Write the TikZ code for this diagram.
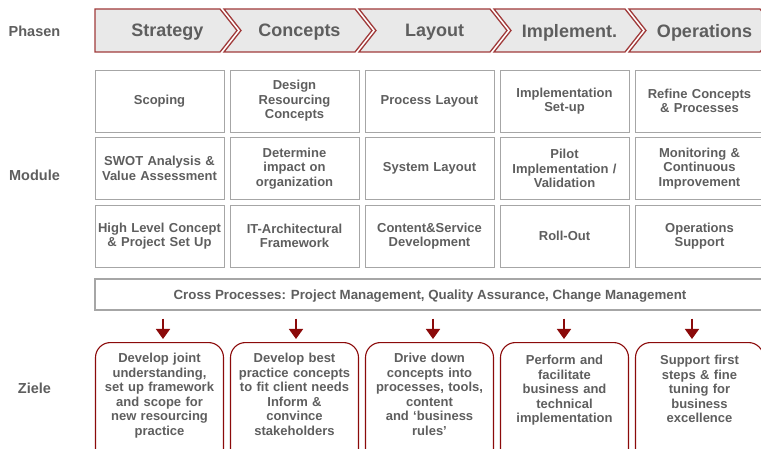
\documentclass[tikz,border=0pt]{standalone}
\usepackage{fontspec}
\setmainfont{Liberation Sans}
\usetikzlibrary{arrows.meta}
\definecolor{txt}{HTML}{5E5E5E}
\definecolor{dred}{HTML}{8B0A0A}
\definecolor{chevborder}{HTML}{A03A3A}
\definecolor{chevfill}{HTML}{E9E9E9}
\definecolor{gbord}{HTML}{A6A6A6}
\begin{document}
\begin{tikzpicture}[x=1pt,y=-1pt,
  rowlabel/.style={text=txt,font=\bfseries\fontsize{14.5}{16}\selectfont,inner sep=0pt},
  chevron/.style={fill=chevfill,draw=chevborder,line width=1.3pt,line join=miter},
  phasetxt/.style={text=txt,font=\bfseries\fontsize{18}{20}\selectfont,inner sep=0pt},
  modbox/.style={draw=gbord,line width=0.9pt,minimum width=129pt,minimum height=62pt,
    text width=127pt,align=center,inner sep=0pt,text=txt,
    font=\bfseries\fontsize{13}{14.5}\selectfont},
  crossbar/.style={draw=gbord,line width=1.1pt,minimum width=670pt,minimum height=31pt,
    inner sep=0pt,text=txt,text depth=0pt,font=\bfseries\fontsize{13.3}{15}\selectfont},
  zbox/.style={draw=dred,line width=1.1pt,rounded corners=15pt,minimum width=128pt,
    minimum height=125pt,anchor=north,inner sep=0pt},
  ztxt/.style={text=txt,align=center,text width=127pt,inner sep=0pt,anchor=north,
    font=\bfseries\fontsize{13}{14.5}\selectfont},
  arr/.style={draw=dred,line width=1.6pt,-{Triangle[width=14pt,length=10pt]}}
]
\useasboundingbox (0,0) rectangle (761,449);

% row labels
\node[rowlabel] (lphasen) at (34.5,31) {Phasen};
\node[rowlabel] (lmodule) at (34.5,175) {Module};
\node[rowlabel] (lziele) at (34.5,388) {Ziele};

% chevrons
\foreach \i/\t in {0/Strategy,1/Concepts,2/Layout,3/Implement.,4/Operations} {
  \pgfmathsetmacro\R{220+135*\i}
  \pgfmathsetmacro\L{\i==0 ? 95 : 89+135*\i}
  \pgfmathsetmacro\N{\i==0 ? 95 : 89+135*\i+17}
  \filldraw[chevron] (\L,9) -- (\R,9) -- ({\R+17},30.5) -- (\R,52) -- (\L,52) -- (\N,30.5) -- cycle;
  \node[phasetxt] (ph\i) at ({(\L+\R)/2+10},32.5) {\t};
}

% module grid
\node[modbox] (m11) at (159.5,101) {Scoping};
\node[modbox] (m12) at (294.5,101) {Design\\Resourcing\\Concepts};
\node[modbox] (m13) at (429.5,101) {Process Layout};
\node[modbox] (m14) at (564.5,101) {Implementation\\Set-up};
\node[modbox] (m15) at (699.5,101) {Refine Concepts\\\& Processes};

\node[modbox] (m21) at (159.5,168.5) {SWOT Analysis \&\\Value Assessment};
\node[modbox] (m22) at (294.5,168.5) {Determine\\impact on\\organization};
\node[modbox] (m23) at (429.5,168.5) {System Layout};
\node[modbox] (m24) at (564.5,168.5) {Pilot\\Implementation /\\Validation};
\node[modbox] (m25) at (699.5,168.5) {Monitoring \&\\Continuous\\Improvement};

\node[modbox] (m31) at (159.5,236) {High Level Concept\\\& Project Set Up};
\node[modbox] (m32) at (294.5,236) {IT-Architectural\\Framework};
\node[modbox] (m33) at (429.5,236) {Content\&Service\\Development};
\node[modbox] (m34) at (564.5,236) {Roll-Out};
\node[modbox] (m35) at (699.5,236) {Operations\\Support};

% cross processes
\node[crossbar] (cross) at (430,294.5) {Cross Processes: Project Management, Quality Assurance, Change Management};

% goals
\node[zbox] (z1) at (159.5,342) {};
\node[zbox] (z2) at (294.5,342) {};
\node[zbox] (z3) at (429.5,342) {};
\node[zbox] (z4) at (564.5,342) {};
\node[zbox] (z5) at (699.5,342) {};

\node[ztxt] (t1) at ([yshift=-11pt]z1.north) {Develop joint\\understanding,\\set up framework\\and scope for\\new resourcing\\practice};
\node[ztxt] (t2) at ([yshift=-11pt]z2.north) {Develop best\\practice concepts\\to fit client needs\\Inform \&\\convince\\stakeholders};
\node[ztxt] (t3) at ([yshift=-11pt]z3.north) {Drive down\\concepts into\\processes, tools,\\content\\and ‘business\\rules’};
\node[ztxt] (t4) at ([yshift=-13pt]z4.north) {Perform and\\facilitate\\business and\\technical\\implementation};
\node[ztxt] (t5) at ([yshift=-13pt]z5.north) {Support first\\steps \& fine\\tuning for\\business\\excellence};

% arrows
\foreach \k/\dx in {1/3.5,2/1.5,3/3.5,4/-0.5,5/-7.5} {
  \draw[arr] ([xshift=\dx pt,yshift=-8pt]cross.south -| z\k.north) -- ([xshift=\dx pt,yshift=3pt]z\k.north);
}
\end{tikzpicture}
\end{document}
